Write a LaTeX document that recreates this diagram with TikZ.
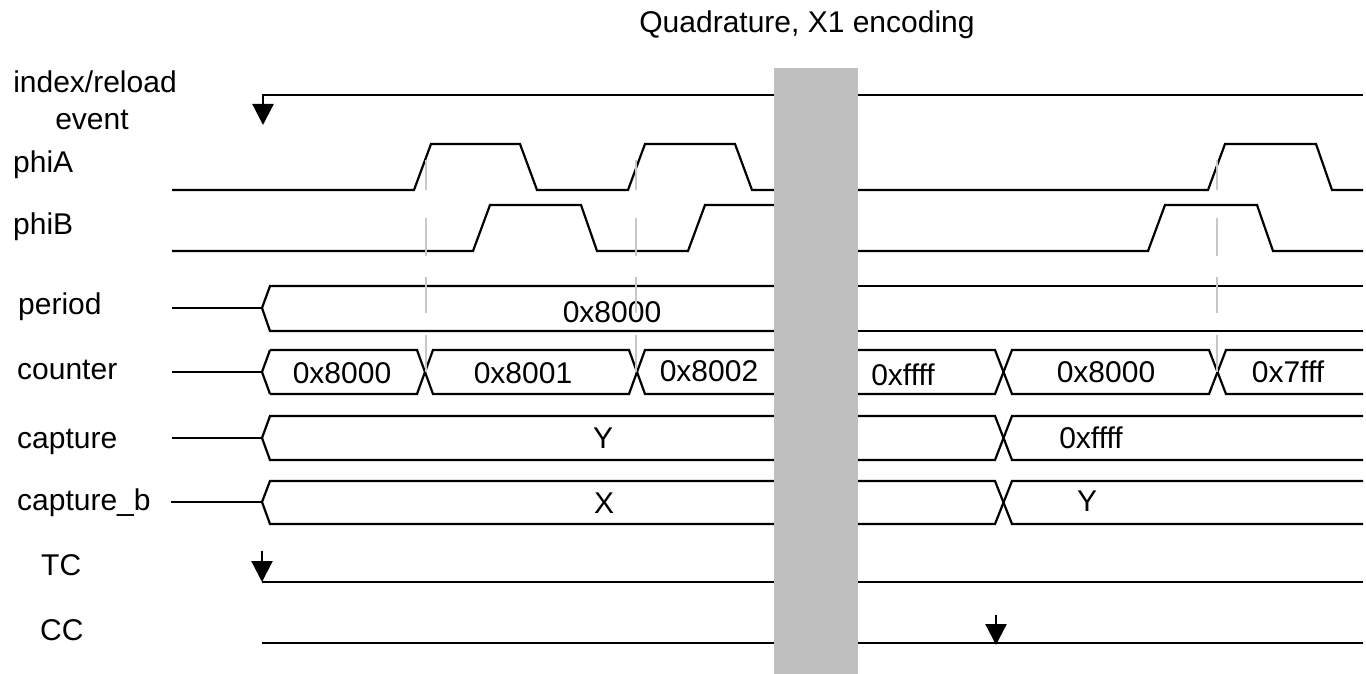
\documentclass[tikz,border=0pt]{standalone}
\usepackage{fontspec}
\setmainfont{Liberation Sans}
\usetikzlibrary{arrows.meta}
\begin{document}
\begin{tikzpicture}[x=1pt,y=-1pt,
  wave/.style={line width=2.2pt,line join=miter,black},
  guide/.style={line width=2pt,color=black!22},
  lbl/.style={anchor=base west,inner sep=0pt,font=\fontsize{30}{34}\selectfont},
  val/.style={anchor=base,inner sep=0pt,font=\fontsize{30}{34}\selectfont},
  evarrow/.style={line width=2.2pt,-{Triangle[width=21pt,length=21pt]}},
  breakbar/.style={fill=black!25,draw=none}]
\useasboundingbox (0,0) rectangle (1366,674);
% title
\node[val] (title) at (807,33) {Quadrature, X1 encoding};
% labels
\node[lbl,anchor=base] (lidx) at (95,93) {index/reload};
\node[lbl,anchor=base] (levt) at (92,130) {event};
\node[lbl] (lphiA) at (13,173) {phiA};
\node[lbl] (lphiB) at (13,234) {phiB};
\node[lbl] (lper) at (18,314) {period};
\node[lbl] (lcnt) at (17,379) {counter};
\node[lbl] (lcap) at (17,448) {capture};
\node[lbl] (lcapb) at (17,510) {capture\_b};
\node[lbl] (ltc) at (41,575) {TC};
\node[lbl] (lcc) at (40,640) {CC};
% index/reload event
\coordinate (idxR) at (775,95);
\coordinate (idxC) at (263,95);
\coordinate (idxT) at (263,125);
\draw[evarrow] (idxR) -- (idxC) -- (idxT);
\draw[wave] (858,95) -- (1363,95);
% phiA
\draw[wave] (172,190)--(414,190)--(431,144)--(520,144)--(537,190)--(628,190)--(645,144)--(735,144)--(752,190)--(775,190);
\draw[wave] (858,190)--(1208,190)--(1225,144)--(1316,144)--(1332,190)--(1363,190);
% phiB
\draw[wave] (172,251)--(473,251)--(490,205)--(581,205)--(597,251)--(688,251)--(705,205)--(775,205);
\draw[wave] (858,251)--(1148,251)--(1165,205)--(1257,205)--(1273,251)--(1363,251);
% period
\draw[wave] (172,308)--(262,308);
\draw[wave] (775,286)--(270,286)--(262,308)--(270,331)--(775,331);
\draw[wave] (858,286)--(1363,286);
\draw[wave] (858,331)--(1363,331);
\node[val] (vper) at (612,322) {0x8000};
% counter
\draw[wave] (172,372)--(262,372);
\draw[wave] (270,350)--(262,372)--(270,394);
\draw[wave] (270,350)--(417,350)--(433,394)--(629,394)--(645,350)--(775,350);
\draw[wave] (270,394)--(417,394)--(433,350)--(629,350)--(645,394)--(775,394);
\draw[wave] (858,350)--(995,350)--(1012,394)--(1209,394)--(1226,350)--(1363,350);
\draw[wave] (858,394)--(995,394)--(1012,350)--(1209,350)--(1226,394)--(1363,394);
\node[val] (c1) at (342,383) {0x8000};
\node[val] (c2) at (523,383) {0x8001};
\node[val] (c3) at (709,381) {0x8002};
\node[val] (c4) at (903,385) {0xffff};
\node[val] (c5) at (1106,382) {0x8000};
\node[val] (c6) at (1288,382) {0x7fff};
% capture
\draw[wave] (172,438)--(262,438);
\draw[wave] (775,416)--(270,416)--(262,438)--(270,460)--(775,460);
\draw[wave] (858,416)--(995,416)--(1012,460)--(1363,460);
\draw[wave] (858,460)--(995,460)--(1012,416)--(1363,416);
\node[val] (cp1) at (603,448) {Y};
\node[val] (cp2) at (1091,448) {0xffff};
% capture_b
\draw[wave] (171,502)--(262,502);
\draw[wave] (775,481)--(270,481)--(262,502)--(270,524)--(775,524);
\draw[wave] (858,481)--(995,481)--(1012,524)--(1363,524);
\draw[wave] (858,524)--(995,524)--(1012,481)--(1363,481);
\node[val] (cb1) at (604,513) {X};
\node[val] (cb2) at (1087,511) {Y};
% TC
\draw[wave] (262,582)--(775,582);
\draw[wave] (858,582)--(1363,582);
\coordinate (tcA) at (262,551);
\coordinate (tcB) at (262,582);
\draw[evarrow] (tcA) -- (tcB);
% CC
\draw[wave] (262,643)--(775,643);
\draw[wave] (858,643)--(1363,643);
\coordinate (ccA) at (996,615);
\coordinate (ccB) at (996,645);
\draw[evarrow] (ccA) -- (ccB);
% guide lines
\foreach \gx in {426,636,1217}{
  \foreach \ya/\yb in {160/190,218/256,277/313,335/372}{
    \draw[guide] (\gx,\ya) -- (\gx,\yb);
  }
}
% break bar
\fill[breakbar] (774,68) rectangle (858,674);
\end{tikzpicture}
\end{document}
